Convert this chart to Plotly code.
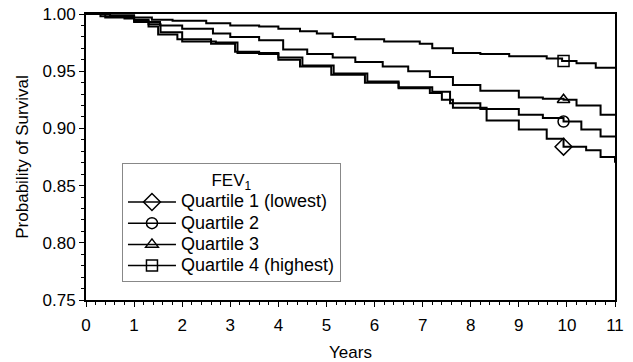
import plotly.graph_objects as go

# ---- data ----
names = ["Quartile 1 (lowest)", "Quartile 2", "Quartile 3", "Quartile 4 (highest)"]
symbols = ["diamond-open", "circle-open", "triangle-up-open", "square-open"]
marker_sizes = [13, 11, 11, 11]

q1_t = [0, 0.4, 1.0, 1.3, 1.5, 1.9, 2.6, 3.1, 3.6, 4.0, 4.45, 5.1, 5.8, 6.5, 7.15, 7.4, 7.63, 8.33, 9.0, 9.58, 9.93, 10.4, 10.7, 11]
q1_s = [1.0, 0.997, 0.993, 0.989, 0.982, 0.978, 0.974, 0.967, 0.965, 0.960, 0.954, 0.947, 0.940, 0.935, 0.931, 0.925, 0.918, 0.907, 0.899, 0.891, 0.884, 0.881, 0.875, 0.870]

q2_t = [0, 0.5, 1.0, 1.3, 1.55, 2.0, 2.7, 3.15, 3.6, 4.0, 4.5, 5.15, 5.85, 6.5, 7.2, 7.57, 8.2, 9.0, 9.5, 9.93, 10.3, 10.7, 11]
q2_s = [1.0, 0.998, 0.994, 0.991, 0.984, 0.976, 0.975, 0.966, 0.966, 0.962, 0.955, 0.948, 0.941, 0.936, 0.932, 0.922, 0.917, 0.912, 0.909, 0.906, 0.899, 0.893, 0.892]

q3_t = [0, 0.3, 0.8, 1.0, 1.3, 1.54, 2.0, 2.64, 3.0, 3.6, 4.1, 4.6, 5.13, 5.6, 6.17, 6.7, 7.15, 7.63, 8.2, 9.0, 9.5, 9.93, 10.2, 10.7, 11]
q3_s = [1.0, 0.998, 0.996, 0.995, 0.993, 0.990, 0.987, 0.983, 0.980, 0.977, 0.969, 0.965, 0.962, 0.958, 0.954, 0.950, 0.945, 0.938, 0.933, 0.927, 0.926, 0.925, 0.920, 0.912, 0.911]

q4_t = [0, 0.5, 1.0, 1.37, 1.8, 2.5, 3.0, 3.6, 4.0, 4.45, 4.8, 5.13, 5.6, 6.2, 6.94, 7.2, 7.63, 8.2, 8.8, 9.58, 9.9, 10.2, 10.6, 11]
q4_s = [1.0, 0.999, 0.997, 0.995, 0.994, 0.992, 0.990, 0.989, 0.987, 0.985, 0.983, 0.980, 0.978, 0.976, 0.974, 0.970, 0.966, 0.965, 0.963, 0.961, 0.959, 0.957, 0.953, 0.953]

marker_x = 9.93
marker_y = [0.884, 0.906, 0.925, 0.959]

x_ticks = list(range(0, 12))
y_ticks = [0.75, 0.80, 0.85, 0.90, 0.95, 1.00]

series = [(q1_t, q1_s), (q2_t, q2_s), (q3_t, q3_s), (q4_t, q4_s)]

def big(txt):
    return f"<span style='font-size:18px'>{txt}</span>"

fig = go.Figure()
for (t, s), sym, ms, my in zip(series, symbols, marker_sizes, marker_y):
    fig.add_trace(go.Scatter(x=t, y=s, mode="lines", line=dict(color="black", width=2, shape="hv"),
                             showlegend=False, hoverinfo="skip"))
    fig.add_trace(go.Scatter(x=[marker_x], y=[my], mode="markers",
                             marker=dict(symbol=sym, size=ms, color="black", line=dict(width=1.5)),
                             showlegend=False))
for name, sym, ms in zip(names, symbols, marker_sizes):
    fig.add_trace(go.Scatter(x=[None], y=[None], mode="lines+markers", name=big(name),
                             line=dict(color="black", width=1.5),
                             marker=dict(symbol=sym, size=ms, color="black", line=dict(width=1.5))))

font = dict(family="Liberation Sans, Arial, sans-serif", size=17, color="black")
lfont = dict(family="Liberation Sans, Arial, sans-serif", size=14, color="black")
tfont = dict(family="Liberation Sans, Arial, sans-serif", size=17, color="black")
fig.update_layout(
    width=633, height=362,
    margin=dict(l=86, r=18, t=14, b=62),
    paper_bgcolor="white", plot_bgcolor="white",
    font=font,
    showlegend=True,
    legend=dict(
        x=0.068, y=0.478, xanchor="left", yanchor="top",
        bordercolor="#888888", borderwidth=1, bgcolor="white",
        title=dict(text="FEV<sub>1</sub>", side="top center", font=tfont),
        font=lfont, tracegroupgap=0, itemwidth=48,
    ),
    xaxis=dict(
        range=[0, 11], tickvals=x_ticks, ticktext=[str(v) for v in x_ticks],
        showline=True, linecolor="black", linewidth=2, mirror=True,
        ticks="outside", ticklen=5, tickwidth=1, tickcolor="black",
        minor=dict(dtick=0.2, ticks="outside", ticklen=3, tickcolor="black"),
        showgrid=False, zeroline=False, automargin=False, ticklabelstandoff=4,
        title=dict(text="Years", font=font, standoff=13),
    ),
    yaxis=dict(
        range=[0.75, 1.0], tickvals=y_ticks, ticktext=[f"{v:.2f}" for v in y_ticks],
        showline=True, linecolor="black", linewidth=2, mirror=True,
        ticks="outside", ticklen=5, tickwidth=1, tickcolor="black",
        minor=dict(dtick=0.01, ticks="outside", ticklen=3, tickcolor="black"),
        showgrid=False, zeroline=False, automargin=False,
        title=dict(text="Probability of Survival", font=font, standoff=10),
    ),
)
fig.write_html("out.html", config={"displayModeBar": False},
               post_script="document.body.style.margin='0';")
